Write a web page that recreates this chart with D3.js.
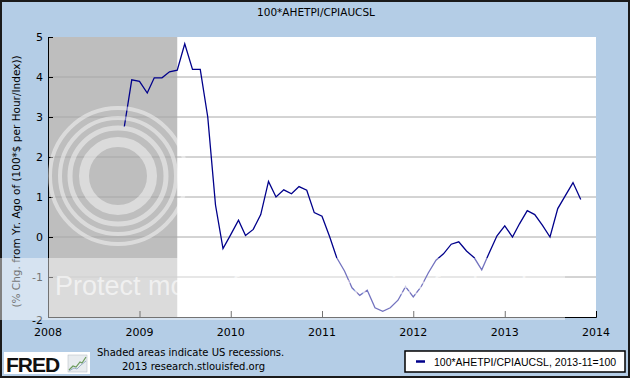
<!DOCTYPE html>
<html>
<head>
<meta charset="utf-8">
<script src="https://cdn.jsdelivr.net/npm/d3@7"></script>
<style>
  html, body { margin: 0; padding: 0; background: #fff; }
  svg { display: block; }
</style>
</head>
<body>
<svg id="chart" width="630" height="378"></svg>
<script>
// ---- data ----
const startMonth = "2008-11";
const values = [
  2.75, 3.93,
  3.89, 3.60, 3.98, 3.98, 4.13, 4.17, 4.83, 4.19, 4.19, 3.00, 0.80, -0.29,
  0.06, 0.42, 0.04, 0.19, 0.56, 1.39, 1.00, 1.18, 1.08, 1.26, 1.17, 0.61,
  0.52, 0.00, -0.52, -0.85, -1.27, -1.46, -1.33, -1.77, -1.86, -1.77, -1.58, -1.24,
  -1.50, -1.25, -0.90, -0.58, -0.42, -0.18, -0.12, -0.35, -0.52, -0.82, -0.38, 0.03,
  0.28, 0.00, 0.33, 0.66, 0.56, 0.29, 0.00, 0.71, 1.04, 1.36, 0.94
];
const recessions = [["2007-12-01", "2009-06-01"]];
const yTicks = [-2, -1, 0, 1, 2, 3, 4, 5];
const xTickYears = [2008, 2009, 2010, 2011, 2012, 2013, 2014];
const title = "100*AHETPI/CPIAUCSL";
const yTitle = "(% Chg. from Yr. Ago of (100*$ per Hour/Index))";
const legendLabel = "100*AHETPI/CPIAUCSL, 2013-11=100";
const noteLines = ["Shaded areas indicate US recessions.", "2013 research.stlouisfed.org"];

// ---- build ----
const parse = d3.timeParse("%Y-%m");
const t0 = parse(startMonth);
const data = values.map((v, i) => ({ date: d3.timeMonth.offset(t0, i), value: v }));

const svg = d3.select("#chart");
const W = 630, H = 378;
const plot = { left: 48, right: 596, top: 37, bottom: 317 };
const font = "DejaVu Sans, Verdana, sans-serif";

svg.append("rect").attr("x", 0).attr("y", 0).attr("width", W).attr("height", H)
  .attr("fill", "#b4cde6");
svg.append("rect").attr("x", 1).attr("y", 1).attr("width", W - 2).attr("height", H - 2)
  .attr("fill", "none").attr("stroke", "#1a1a1a").attr("stroke-width", 2);

const x = d3.scaleTime()
  .domain([new Date(2008, 0, 1), new Date(2014, 0, 1)])
  .range([plot.left, plot.right]);
const y = d3.scaleLinear().domain([-2, 5]).range([plot.bottom, plot.top]);

// plot background
svg.append("rect").attr("x", plot.left).attr("y", plot.top)
  .attr("width", plot.right - plot.left).attr("height", plot.bottom - plot.top)
  .attr("fill", "#ffffff");

// recessions
svg.append("g").selectAll("rect").data(recessions).join("rect")
  .attr("x", d => Math.max(plot.left, x(new Date(d[0]))))
  .attr("y", plot.top)
  .attr("width", d => x(new Date(d[1] + "T00:00")) - Math.max(plot.left, x(new Date(d[0]))))
  .attr("height", plot.bottom - plot.top)
  .attr("fill", "#bebebe");

// grid
svg.append("g").selectAll("line").data(yTicks.filter(v => v > -2 && v < 5)).join("line")
  .attr("x1", plot.left).attr("x2", plot.right)
  .attr("y1", d => y(d)).attr("y2", d => y(d))
  .attr("stroke", "#a8a8a8").attr("stroke-width", 1);

// y axis
const yAxis = d3.axisRight(y).tickValues(yTicks).tickSize(5).tickFormat("");
const gy = svg.append("g").attr("transform", `translate(${plot.left},0)`).call(yAxis);
gy.select(".domain").attr("stroke", "#000");
gy.selectAll(".tick line").attr("stroke", "#000");
svg.append("g").selectAll("text").data(yTicks).join("text")
  .attr("x", plot.left - 5)
  .attr("y", d => y(d) + (d === -2 ? 3 : 0))
  .attr("dy", "0.36em")
  .attr("text-anchor", "end")
  .attr("font-family", font).attr("font-size", 11).attr("fill", "#000")
  .text(d => d);

// x axis
const xAxis = d3.axisTop(x).tickValues(xTickYears.map(yr => new Date(yr, 0, 1)))
  .tickSize(6).tickFormat("");
const gx = svg.append("g").attr("transform", `translate(0,${plot.bottom})`).call(xAxis);
gx.select(".domain").attr("stroke", "#000");
gx.selectAll(".tick line").attr("stroke", "#000");
svg.append("g").selectAll("text").data(xTickYears).join("text")
  .attr("x", d => x(new Date(d, 0, 1)))
  .attr("y", 336)
  .attr("text-anchor", "middle")
  .attr("font-family", font).attr("font-size", 11).attr("fill", "#000")
  .text(d => d);

// line
const line = d3.line().x(d => x(d.date)).y(d => y(d.value));
svg.append("path").datum(data).attr("d", line)
  .attr("fill", "none").attr("stroke", "#00008b").attr("stroke-width", 1.3)
  .attr("stroke-linejoin", "miter");

// title
svg.append("text").attr("x", 316).attr("y", 16).attr("text-anchor", "middle")
  .attr("font-family", font).attr("font-size", 10.5).attr("fill", "#000").text(title);

// y title
svg.append("text")
  .attr("transform", `translate(20,${(plot.top + 326) / 2}) rotate(-90)`)
  .attr("text-anchor", "middle")
  .attr("font-family", font).attr("font-size", 10.5).attr("fill", "#000").text(yTitle);

// notes
svg.append("text").attr("x", 97).attr("y", 356)
  .attr("font-family", font).attr("font-size", 10).attr("fill", "#000").text(noteLines[0]);
svg.append("text").attr("x", 122).attr("y", 370)
  .attr("font-family", font).attr("font-size", 10).attr("fill", "#000").text(noteLines[1]);

// FRED logo
svg.append("rect").attr("x", 4).attr("y", 352).attr("width", 86).attr("height", 22).attr("fill", "#fff");
svg.append("text").attr("x", 6).attr("y", 372)
  .attr("font-family", "Liberation Sans, Arial, sans-serif").attr("font-weight", "bold")
  .attr("font-size", 21).attr("letter-spacing", -1).attr("fill", "#111").text("FRED");
const icon = svg.append("g").attr("transform", "translate(68,355)");
icon.append("rect").attr("width", 19).attr("height", 17).attr("fill", "#e8ecef").attr("stroke", "#b0b8c0").attr("stroke-width", 0.5);
icon.append("path").attr("d", "M1,15 L5,11 L8,12 L12,7 L14,8 L18,2")
  .attr("fill", "none").attr("stroke", "#6a9a5a").attr("stroke-width", 1.2);
icon.append("path").attr("d", "M1,16 L6,13 L9,14 L13,10 L18,6")
  .attr("fill", "none").attr("stroke", "#9ab0c8").attr("stroke-width", 1);

// legend
svg.append("rect").attr("x", 405).attr("y", 351).attr("width", 220).attr("height", 21)
  .attr("fill", "#fff").attr("stroke", "#000").attr("stroke-width", 1.5);
svg.append("line").attr("x1", 416).attr("x2", 425).attr("y1", 361.5).attr("y2", 361.5)
  .attr("stroke", "#00008b").attr("stroke-width", 2.5);
svg.append("text").attr("x", 434).attr("y", 365.5)
  .attr("font-family", "Liberation Sans, Arial, sans-serif").attr("font-size", 10.5)
  .attr("fill", "#000").text(legendLabel);

// watermark (faint overlay)
const wm = svg.append("g").attr("pointer-events", "none");
[[34, 10], [48, 5], [58, 4], [68, 4]].forEach(([r, sw]) => {
  wm.append("circle").attr("cx", 118).attr("cy", 176).attr("r", r)
    .attr("fill", "none").attr("stroke", "#fff").attr("stroke-opacity", 0.45).attr("stroke-width", sw);
});
wm.append("rect").attr("x", 0).attr("y", 258).attr("width", 565).attr("height", 62)
  .attr("fill", "#fff").attr("fill-opacity", 0.45);
wm.append("text").attr("x", 55).attr("y", 295)
  .attr("font-family", "Liberation Sans, Arial, sans-serif").attr("font-size", 27)
  .attr("fill", "#fff").attr("fill-opacity", 0.6).text("Protect more of your memories for less!");
</script>
</body>
</html>
